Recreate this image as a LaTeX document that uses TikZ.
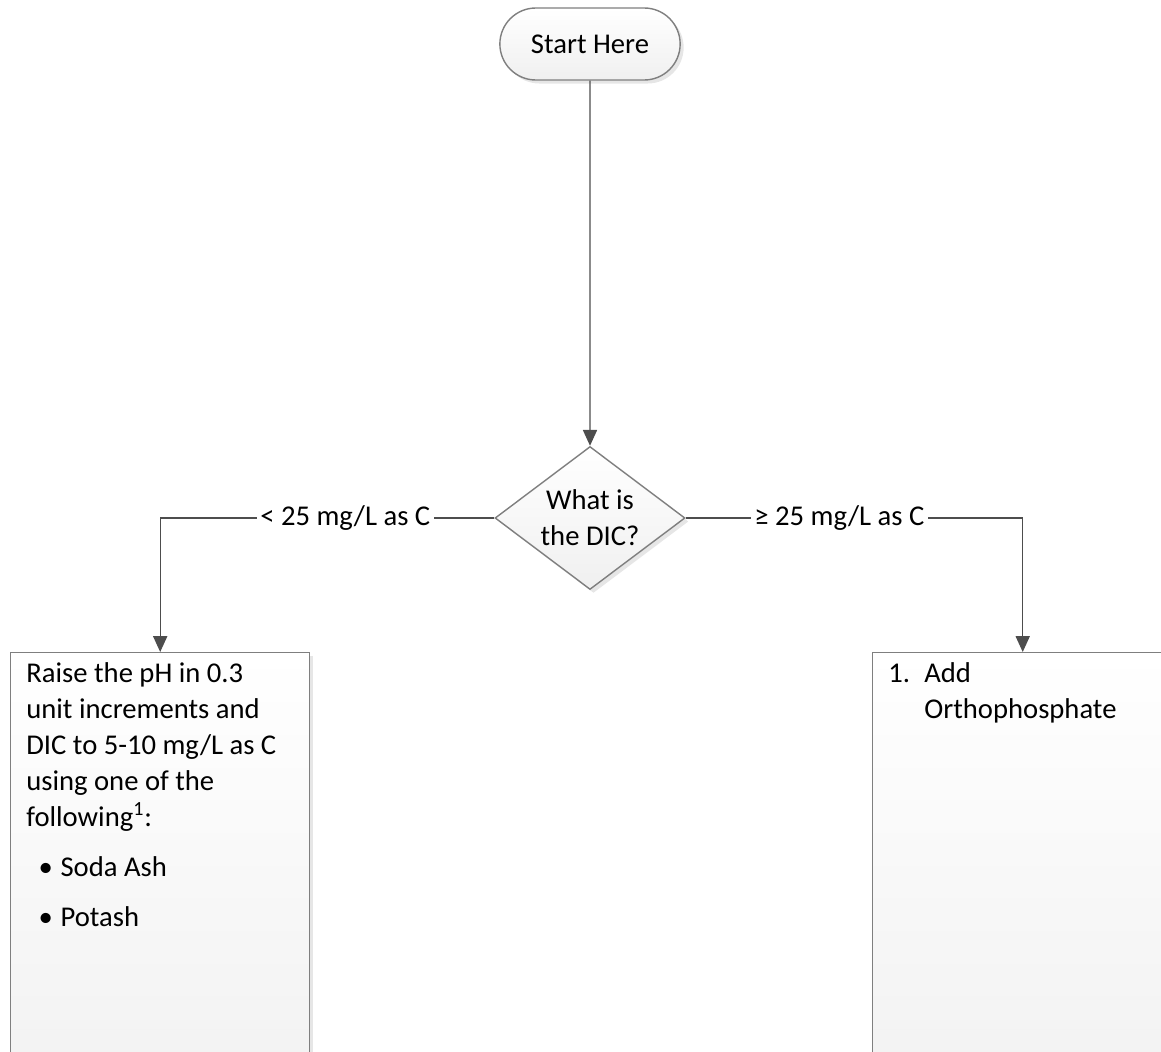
\documentclass[tikz,border=0pt]{standalone}
\usepackage{fontspec}
\setmainfont{Carlito}
\usetikzlibrary{arrows.meta, positioning, calc, shapes.geometric, shapes.misc, shadows}
\definecolor{edge}{HTML}{7F7F7F}
\definecolor{wire}{HTML}{4D4D4D}
\tikzset{
  shade/.style={top color=white, bottom color=black!6, draw=edge, line width=0.8pt,
    drop shadow={opacity=0.2, shadow xshift=2pt, shadow yshift=-2pt}},
  term/.style={shade, rounded rectangle, minimum width=3.84cm, minimum height=1.44cm},
  decide/.style={shade, diamond, shape aspect=1.33, minimum width=3.8cm, minimum height=2.86cm, inner sep=0pt, align=center},
  panel/.style={shade, rectangle, anchor=north west, minimum height=10cm},
  txt/.style={anchor=north west, align=left, inner sep=0pt},
  lbl/.style={fill=white, inner sep=2pt},
  arr/.style={-{Triangle[length=9pt, width=8pt]}, draw=wire, line width=0.8pt},
}

\begin{document}
\begin{tikzpicture}[font=\fontsize{16.3}{20.5}\selectfont]
    \useasboundingbox (0,0) rectangle (23.22,-21.02);
    \clip (0,0) rectangle (23.22,-21.02);
    \node[term] (start) at (11.8,-0.88) {Start Here};
    \node[decide] (dic) at (11.8,-10.36) {What is\\the DIC?};
    \node[panel, minimum width=5.98cm] (raise) at (0.2,-13.04) {};
    \node[panel, minimum width=6cm] (ortho) at (17.44,-13.04) {};
    % box texts
    \node[txt, below right=0.2cm and 0.32cm of raise.north west] (raisetxt)
      {Raise the pH in 0.3\\unit increments and\\DIC to 5-10 mg/L as C\\using one of the\\following\textsuperscript{1}:\\[8pt]
       \hspace*{7pt}\makebox[12.5pt][l]{\textbullet}Soda Ash\\[8pt]
       \hspace*{7pt}\makebox[12.5pt][l]{\textbullet}Potash};
    \node[txt, below right=0.2cm and 0.32cm of ortho.north west] (orthotxt)
      {\makebox[20.5pt][l]{1.}Add\\\hspace*{20.5pt}Orthophosphate};
    % connectors
    \draw[arr] (start) -- (dic);
    \draw[arr] (dic.west) -| node[lbl, pos=0.223] {< 25 mg/L as C} (raise.north);
    \draw[arr] (dic.east) -| node[lbl, pos=0.228] {≥ 25  mg/L as C} (ortho.north);
  \end{tikzpicture}
\end{document}
